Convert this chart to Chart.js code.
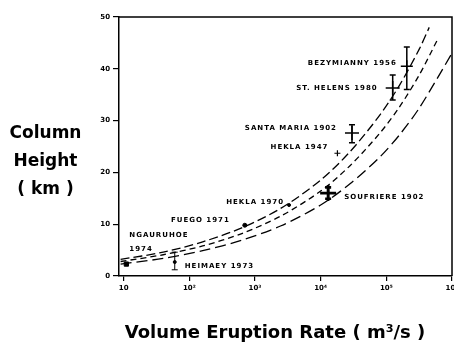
<!DOCTYPE html>
<html>
<head>
<meta charset="utf-8">
<script src="https://cdn.jsdelivr.net/npm/chart.js@4.4.0/dist/chart.umd.min.js"></script>
<style>
  body { margin: 0; background: #fff; }
  #wrap { position: relative; width: 454px; height: 344px; }
  .axis-title { position: absolute; font-family: 'DejaVu Sans', sans-serif; font-weight: bold; color: #000; text-align: center; }
  #yTitle { left: 0; width: 91px; top: 118px; font-size: 17px; line-height: 28px; }
  #xTitle { left: 96px; width: 358px; top: 322px; font-size: 18px; line-height: 20px; }
</style>
</head>
<body>
<div id="wrap">
  <canvas id="heightChart" width="454" height="344"></canvas>
  <div class="axis-title" id="yTitle">Column<br>Height<br>( km )</div>
  <div class="axis-title" id="xTitle">Volume Eruption Rate ( m³/s )</div>
</div>
<script>
// axis ticks
const xTickValues = [10, 100, 1000, 10000, 100000, 1000000];
const xTickLabels = ['10', '10²', '10³', '10⁴', '10⁵', '10⁶'];
const yTickLabels = ['0', '10', '20', '30', '40', '50'];

// observed eruptions (rate in m3/s, height in km)
const eruptions = ['BEZYMIANNY 1956', 'ST. HELENS 1980', 'SANTA MARIA 1902', 'HEKLA 1947', 'HEKLA 1970',
                   'FUEGO 1971', 'SOUFRIERE 1902', 'NGAURUHOE\n1974', 'HEIMAEY 1973'];
const eruptionRate = [205000, 125000, 30000, 18000, 3300, 700, 13000, 11, 60];
const columnHeight = [40.5, 36.3, 27.6, 23.7, 13.7, 9.8, 16.0, 2.3, 2.7];
const heightLow = [36.0, 34.0, 25.7, null, null, null, 14.9, null, 1.2];
const heightHigh = [44.2, 38.8, 29.2, null, null, null, 17.1, null, 4.6];

// theoretical curves (dashed)
const curveARate = [9, 40, 160, 630, 2500, 10000, 28000, 80000, 160000, 320000, 450000];
const curveAHeight = [3.2, 4.6, 6.6, 9.3, 13.1, 18.5, 24.0, 31.1, 36.9, 43.9, 48.0];
const curveBRate = [9, 40, 160, 630, 2500, 10000, 28000, 80000, 160000, 320000, 600000];
const curveBHeight = [2.8, 4.1, 5.8, 8.2, 11.6, 16.4, 21.3, 27.6, 32.7, 38.9, 45.6];
const curveCRate = [9, 40, 160, 630, 2500, 10000, 28000, 80000, 160000, 320000, 1000000];
const curveCHeight = [2.3, 3.4, 4.9, 6.9, 9.7, 13.7, 17.8, 23.0, 27.3, 32.5, 43.0];

// marker styling and label placement per eruption: [dx, dy, align]
const markerStyle = ['cross', 'cross', 'cross', 'cross', 'circle', 'circle', 'cross', 'rect', 'circle'];
const markerSize = [6, 7, 7, 3, 1.5, 2, 8, 3, 1.5];
const markerWidth = [1.5, 1.5, 1.5, 1.2, 1, 1, 2.6, 1, 1];
const labelPlacement = [[-10, -3, 'right'], [-15, 0, 'right'], [-15, -5, 'right'], [-9, -6, 'right'],
                        [-5, -3, 'right'], [-15, -5, 'right'], [16, 4, 'left'], [3, -29, 'left'], [10, 4, 'left']];

const toPoints = (xs, ys) => xs.map((v, i) => ({ x: v, y: ys[i] }));

const frame = {
    id: 'frame',
    beforeDatasetsDraw(chart) {
        const { ctx, chartArea: a } = chart;
        ctx.save();
        ctx.strokeStyle = '#000';
        ctx.lineWidth = 1.5;
        ctx.beginPath();
        ctx.moveTo(a.left, a.top);
        ctx.lineTo(a.right, a.top);
        ctx.lineTo(a.right, a.bottom);
        ctx.stroke();
        ctx.restore();
    },
    afterDraw(chart) {
        // x tick labels, placed through the log scale (the last one runs off the edge)
        const { ctx, chartArea: a } = chart;
        const x = chart.scales.x;
        ctx.save();
        ctx.fillStyle = '#000';
        ctx.font = 'bold 7px "DejaVu Sans"';
        ctx.textAlign = 'center';
        ctx.textBaseline = 'top';
        xTickValues.forEach((v, i) => ctx.fillText(xTickLabels[i], x.getPixelForValue(v), a.bottom + 9));
        ctx.restore();
    }
};

const eruptionLabels = {
    id: 'eruptionLabels',
    afterDatasetsDraw(chart) {
        const { ctx } = chart;
        const x = chart.scales.x, y = chart.scales.y;
        ctx.save();
        ctx.fillStyle = '#000';
        ctx.strokeStyle = '#000';
        ctx.font = 'bold 7px "DejaVu Sans"';
        ctx.letterSpacing = '1px';
        ctx.textBaseline = 'middle';
        eruptions.forEach((name, i) => {
            const px = x.getPixelForValue(eruptionRate[i]);
            const py = y.getPixelForValue(columnHeight[i]);
            if (heightLow[i] !== null) {
                const top = y.getPixelForValue(heightHigh[i]);
                const bot = y.getPixelForValue(heightLow[i]);
                ctx.lineWidth = markerWidth[i];
                ctx.beginPath();
                ctx.moveTo(px, top); ctx.lineTo(px, bot);
                ctx.moveTo(px - 3, top); ctx.lineTo(px + 3, top);
                ctx.moveTo(px - 3, bot); ctx.lineTo(px + 3, bot);
                ctx.stroke();
            }
            const [dx, dy, align] = labelPlacement[i];
            ctx.textAlign = align;
            name.split('\n').forEach((line, k) => ctx.fillText(line, px + dx, py + dy + k * 14));
        });
        ctx.restore();
    }
};

const tickFont = { family: 'DejaVu Sans', size: 7, weight: 'bold' };

new Chart(document.getElementById('heightChart'), {
    type: 'scatter',
    data: {
        datasets: [
            {
                label: 'Curve A',
                data: toPoints(curveARate, curveAHeight),
                showLine: true,
                borderColor: '#000',
                borderWidth: 1.3,
                borderDash: [9, 4],
                pointRadius: 0,
                tension: 0.3
            },
            {
                label: 'Curve B',
                data: toPoints(curveBRate, curveBHeight),
                showLine: true,
                borderColor: '#000',
                borderWidth: 1.3,
                borderDash: [6, 4],
                pointRadius: 0,
                tension: 0.3
            },
            {
                label: 'Curve C',
                data: toPoints(curveCRate, curveCHeight),
                showLine: true,
                borderColor: '#000',
                borderWidth: 1.3,
                borderDash: [11, 5],
                pointRadius: 0,
                tension: 0.3
            },
            {
                label: 'Eruptions',
                data: toPoints(eruptionRate, columnHeight),
                pointStyle: markerStyle,
                pointRadius: markerSize,
                borderWidth: markerWidth,
                borderColor: '#000',
                backgroundColor: '#000'
            }
        ]
    },
    options: {
        responsive: false,
        animation: false,
        devicePixelRatio: 1,
        layout: { autoPadding: false, padding: { top: 17, right: 2, left: 0, bottom: 0 } },
        plugins: { legend: { display: false }, tooltip: { enabled: false } },
        scales: {
            x: {
                type: 'logarithmic',
                min: 8.5,
                max: 1000000,
                afterBuildTicks: s => { s.ticks = xTickValues.map(v => ({ value: v })); },
                afterFit: s => { s.height = 68; },
                ticks: { display: false },
                grid: { drawOnChartArea: false, tickLength: 5, color: '#000', lineWidth: 1.2 },
                border: { color: '#000', width: 1.5 }
            },
            y: {
                min: 0,
                max: 50,
                afterFit: s => { s.width = 119; s.paddingTop = 0; s.paddingBottom = 0; },
                ticks: {
                    stepSize: 10,
                    callback: (v, i) => yTickLabels[i],
                    font: tickFont,
                    color: '#000',
                    padding: 3
                },
                grid: { drawOnChartArea: false, tickLength: 6, color: '#000', lineWidth: 1.2 },
                border: { color: '#000', width: 1.5 }
            }
        }
    },
    plugins: [frame, eruptionLabels]
});
</script>
</body>
</html>
